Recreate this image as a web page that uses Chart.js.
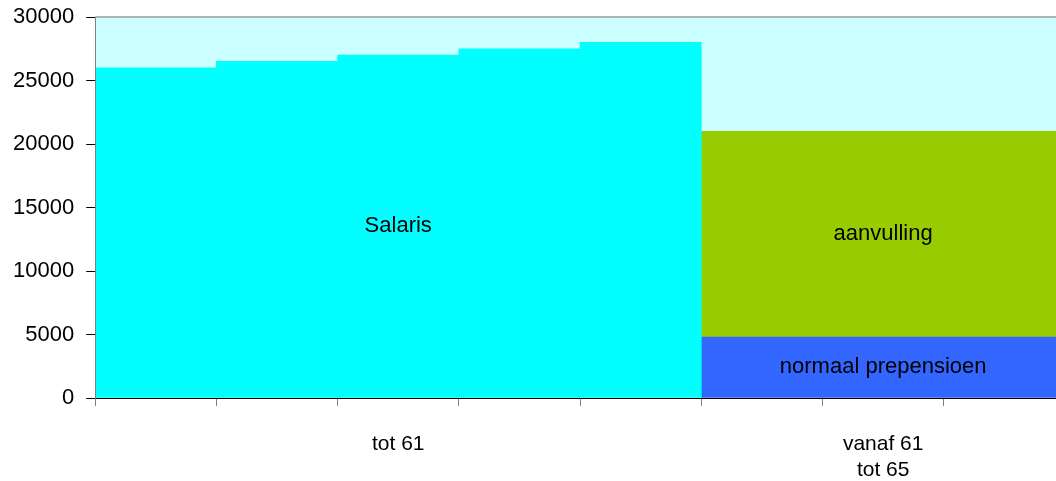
<!DOCTYPE html>
<html>
<head>
<meta charset="utf-8">
<script src="https://cdn.jsdelivr.net/npm/chart.js@4/dist/chart.umd.min.js"></script>
<style>
  html, body { margin: 0; padding: 0; background: #fff; overflow: hidden; }
  canvas { display: block; }
</style>
</head>
<body>
<canvas id="chart" width="1065" height="481"></canvas>
<script>
// ---- data ----
const categories = ["1", "2", "3", "4", "5", "6", "7", "8"];
const xTickLabels = ["", "", "tot 61", "", "", "", ["vanaf 61", "tot 65"], ""];
const salaris = [26000, 26500, 27000, 27500, 28000, null, null, null];
const prepensioen = [null, null, null, null, null, 4800, 4800, 4800];
const aanvulling = [null, null, null, null, null, 16200, 16200, 16200];
const yTicks = [0, 5000, 10000, 15000, 20000, 25000, 30000];

const FONT = "'Liberation Sans', Arial, sans-serif";
Chart.defaults.font.family = FONT;
Chart.defaults.font.size = 21;
Chart.defaults.color = "#000";

// light cyan plot background + grey top border
const plotArea = {
  id: "plotArea",
  beforeDraw(chart) {
    const { ctx, chartArea: a } = chart;
    ctx.save();
    ctx.fillStyle = "#CCFFFF";
    ctx.fillRect(a.left, a.top, a.right - a.left, a.bottom - a.top);
    ctx.restore();
  },
  afterDraw(chart) {
    const { ctx, chartArea: a } = chart;
    ctx.save();
    ctx.strokeStyle = "#9a9a9a";
    ctx.lineWidth = 1.5;
    ctx.beginPath();
    ctx.moveTo(a.left, a.top);
    ctx.lineTo(a.right, a.top);
    ctx.stroke();
    ctx.restore();
  }
};

// text label inside each stacked block
const blockLabels = {
  id: "blockLabels",
  afterDatasetsDraw(chart) {
    const { ctx } = chart;
    ctx.save();
    ctx.font = "22px " + FONT;
    ctx.fillStyle = "#000";
    ctx.textAlign = "center";
    ctx.textBaseline = "middle";
    chart.data.datasets.forEach((ds, i) => {
      const bar = chart.getDatasetMeta(i).data[ds.labelAt];
      if (!bar) return;
      ctx.fillText(ds.label, bar.x, (bar.y + bar.base) / 2);
    });
    ctx.restore();
  }
};

new Chart(document.getElementById("chart"), {
  type: "bar",
  data: {
    labels: categories,
    datasets: [
      { label: "Salaris", data: salaris, backgroundColor: "#00FFFF", labelAt: 2 },
      { label: "normaal prepensioen", data: prepensioen, backgroundColor: "#3366FF", labelAt: 6 },
      { label: "aanvulling", data: aanvulling, backgroundColor: "#99CC00", labelAt: 6 }
    ]
  },
  options: {
    responsive: false,
    animation: false,
    barPercentage: 1,
    categoryPercentage: 1,
    layout: { padding: { left: 1, top: 17, right: 0, bottom: 0 } },
    plugins: {
      legend: { display: false },
      tooltip: { enabled: false }
    },
    scales: {
      x: {
        stacked: true,
        offset: true,
        grid: { offset: true, drawOnChartArea: false, tickLength: 8, color: "#808080" },
        border: { color: "#000", z: 1 },
        afterFit: (axis) => { axis.height = 83; },
        ticks: {
          autoSkip: false,
          maxRotation: 0,
          padding: 25,
          font: { size: 21, lineHeight: 1.25 },
          callback: (v, i) => xTickLabels[i]
        }
      },
      y: {
        stacked: true,
        min: 0,
        max: 30000,
        afterBuildTicks: (axis) => { axis.ticks = yTicks.map(v => ({ value: v })); },
        afterFit: (axis) => { axis.paddingTop = 0; axis.paddingBottom = 0; },
        grid: { drawOnChartArea: false, tickLength: 9, color: "#000" },
        border: { color: "#808080", z: 1 },
        ticks: { padding: 12, font: { size: 22 }, callback: (v) => String(v) }
      }
    }
  },
  plugins: [plotArea, blockLabels]
});
</script>
</body>
</html>
